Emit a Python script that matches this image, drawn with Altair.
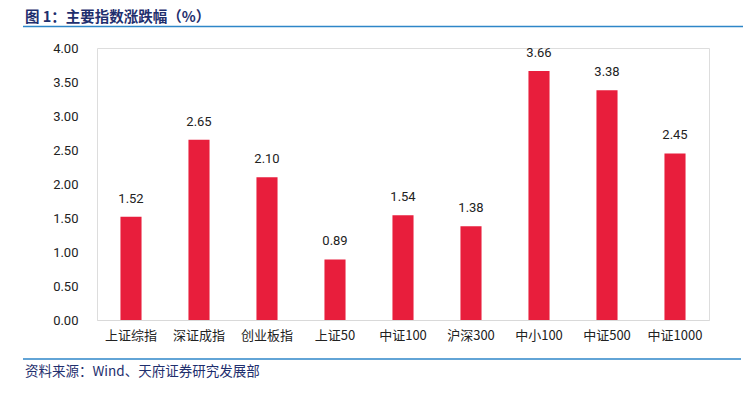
import altair as alt
import pandas as pd

categories = ["上证综指", "深证成指", "创业板指", "上证50", "中证100", "沪深300", "中小100", "中证500", "中证1000"]
values = [1.52, 2.65, 2.10, 0.89, 1.54, 1.38, 3.66, 3.38, 2.45]
y_ticks = [0, 0.5, 1.0, 1.5, 2.0, 2.5, 3.0, 3.5, 4.0]
title_text = "图 1：主要指数涨跌幅（%）"
source_text = "资料来源：Wind、天府证券研究发展部"

df = pd.DataFrame({"cat": categories, "val": values})

W, H = 612, 272

x_enc = alt.X("cat:N", sort=categories, title=None,
              scale=alt.Scale(paddingInner=0.69, paddingOuter=0.345),
              axis=alt.Axis(labelAngle=0, labelFont="Noto Sans CJK SC", labelFontSize=13,
                            labelColor="#222222", ticks=False, domainColor="#D9D9D9",
                            labelPadding=9, grid=False))
y_enc = alt.Y("val:Q", title=None,
              scale=alt.Scale(domain=[0, 4], nice=False),
              axis=alt.Axis(values=y_ticks, format=".2f", labelFont="Roboto", labelFontSize=13,
                            labelColor="#222222", ticks=False, domain=False, grid=False,
                            labelPadding=19, labelOverlap=False, tickCount=9))

base = alt.Chart(df)
bars = base.mark_bar(color="#E81E3C").encode(x=x_enc, y=y_enc)
labels = base.mark_text(dy=-18, baseline="middle", font="Roboto", fontSize=13,
                        color="#222222").encode(
    x=x_enc, y=y_enc, text=alt.Text("val:Q", format=".2f"))

deco = pd.DataFrame({"k": [0]})
title = alt.Chart(deco).mark_text(align="left", baseline="middle", font="Noto Sans CJK SC",
                                  fontSize=14.5, fontWeight="bold", color="#1F2F6E").encode(
    x=alt.value(-72), y=alt.value(-30.5), text=alt.value(title_text))
title_rule = alt.Chart(deco).mark_rule(color="#2E86C8", strokeWidth=1.5).encode(
    x=alt.value(-74), x2=alt.value(646), y=alt.value(-21.5))
foot_rule = alt.Chart(deco).mark_rule(color="#2E86C8", strokeWidth=1.5).encode(
    x=alt.value(-74), x2=alt.value(644), y=alt.value(311))
foot = alt.Chart(deco).mark_text(align="left", baseline="middle", font="Noto Sans CJK SC",
                                 fontSize=13.5, color="#1F2F6E").encode(
    x=alt.value(-72), y=alt.value(324), text=alt.value(source_text))

chart = alt.layer(bars, labels, title, title_rule, foot_rule, foot).properties(
    width=W, height=H,
    autosize=alt.AutoSizeParams(type="none"),
    padding={"left": 89, "top": 40, "right": 34, "bottom": 66},
).configure_view(stroke=None).configure(background="white")

chart.save("out.html", embed_options={"renderer": "svg", "actions": False})
